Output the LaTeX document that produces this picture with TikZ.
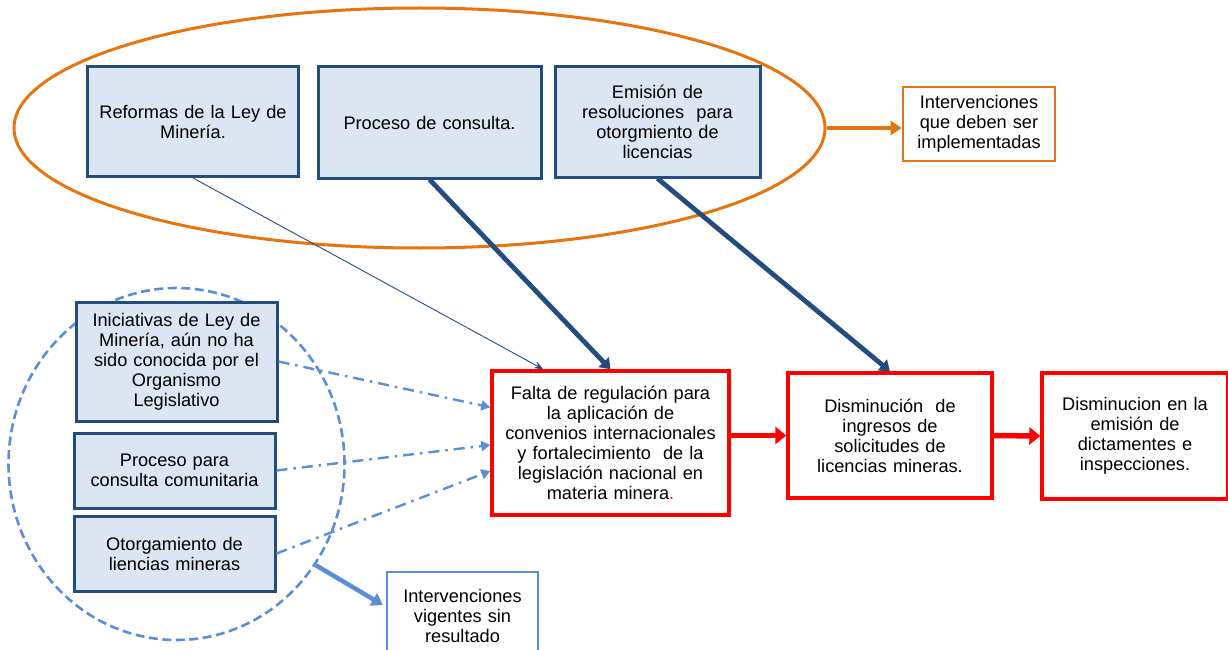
\documentclass[tikz,border=0pt]{standalone}
\usepackage{fontspec}
\setmainfont{Liberation Sans}[WordSpace={0.8,0.5,0.5}]
\usetikzlibrary{arrows.meta,shapes.geometric,calc}
\definecolor{navy}{HTML}{254C7E}
\definecolor{boxfill}{HTML}{DCE6F2}
\definecolor{orng}{HTML}{E8740F}
\definecolor{lblue}{HTML}{5A8ED6}
\definecolor{rred}{HTML}{FF0000}
\tikzset{
  every node/.style={font=\fontsize{18.2}{20}\selectfont, align=center, inner sep=0pt},
  navybox/.style={draw=navy, line width=3pt, fill=boxfill},
  redbox/.style={draw=rred, line width=3.4pt, fill=white},
  orangebox/.style={draw=orng, line width=2.6pt, fill=white},
  lbbox/.style={draw=lblue, line width=2.4pt, fill=white},
  navyarrow/.style={draw=navy, line width=4.8pt, -{Triangle[length=10pt,width=14pt]}},
  thinarrow/.style={draw=navy, line width=0.9pt, -{Stealth[length=9pt,width=7pt]}},
  dasharrow/.style={draw=lblue, line width=2.4pt, dash pattern=on 11pt off 6pt on 2.5pt off 6pt, -{Triangle[length=9pt,width=10pt]}},
  redarrow/.style={draw=rred, line width=5.5pt, -{Triangle[length=11pt,width=17pt]}},
}
\begin{document}
\begin{tikzpicture}[x=1pt,y=-1pt]
\useasboundingbox (0,0) rectangle (1228,650);
\clip (0,0) rectangle (1228,650);
% ellipses
\node[ellipse, draw=orng, line width=3pt, minimum width=811pt, minimum height=240pt] (oell) at (419.5,128) {};
\node[ellipse, draw=lblue, line width=2.6pt, dash pattern=on 9pt off 4.5pt, minimum width=336pt, minimum height=352pt] (bell) at (176.5,464) {};
% top boxes
\node[navybox, minimum width=211pt, minimum height=110pt, text width=205pt] (ref) at (193,121.5) {Reformas de la Ley de\\ Minería.};
\node[navybox, minimum width=223pt, minimum height=111pt, text width=213pt] (proc) at (429.5,122.5) {Proceso de consulta.};
\node[navybox, minimum width=205pt, minimum height=110pt, text width=199pt] (emis) at (657.5,122) {Emisión de\\ resoluciones\ \ para\\ otorgmiento de\\ licencias};
\node[orangebox, minimum width=152pt, minimum height=74pt, text width=146pt] (oint) at (979,124) {Intervenciones\\ que deben ser\\ implementadas};
% left boxes
\node[navybox, minimum width=201pt, minimum height=119pt, text width=197pt] (ini) at (176.5,361.5) {Iniciativas de Ley de\\ Minería, aún no ha\\ sido conocida por el\\ Organismo\\ Legislativo};
\node[navybox, minimum width=201pt, minimum height=75pt, text width=197pt] (pcc) at (174.5,470.5) {Proceso para\\ consulta comunitaria};
\node[navybox, minimum width=201pt, minimum height=75pt, text width=197pt] (oto) at (174.5,553.5) {Otorgamiento de\\ liencias mineras};
\node[lbbox, minimum width=151pt, minimum height=88pt, text width=147pt, anchor=north] (ivs) at (462.5,571) {Intervenciones\\ vigentes sin\\ resultado\\[30pt]};
% red boxes
\node[redbox, minimum width=237pt, minimum height=144pt, text width=233pt] (falta) at (610.5,443) {Falta de regulación para\\ la aplicación de\\ convenios internacionales\\ y fortalecimiento\ \ de la\\ legislación nacional en\\ materia minera\textcolor{rred}{.}};
\node[redbox, minimum width=204pt, minimum height=125pt, text width=198pt] (dism) at (890,435.5) {Disminución\ \ de\\ ingresos de\\ solicitudes de\\ licencias mineras.};
\node[redbox, minimum width=186pt, minimum height=126pt, text width=182pt] (dism2) at (1135,436) {Disminucion en la\\ emisión de\\ dictamentes e\\ inspecciones.};
% connectors
\draw[draw=orng, line width=4.5pt, -{Triangle[length=11pt,width=14pt]}] (oell.east) -- (oell.east -| oint.west);
\draw[thinarrow] (ref.south) -- ($(falta.north west)+(53,0)$);
\draw[navyarrow] (proc.south) -- (falta.north);
\draw[navyarrow] (emis.south) -- (dism.north);
\draw[dasharrow] (ini.east) -- ($(falta.north west)+(0,38)$);
\draw[dasharrow] (pcc.east) -- ($(falta.west)+(0,2)$);
\draw[dasharrow] (oto.east) -- ($(falta.west)+(0,28)$);
\draw[draw=lblue, line width=4.5pt, -{Triangle[length=11pt,width=14pt]}] (bell.-36.8) -- ($(ivs.north west)+(-3,34)$);
\draw[redarrow] (falta.east |- dism.west) -- (dism.west);
\draw[redarrow] (dism.east) -- (dism2.west);
\end{tikzpicture}
\end{document}
